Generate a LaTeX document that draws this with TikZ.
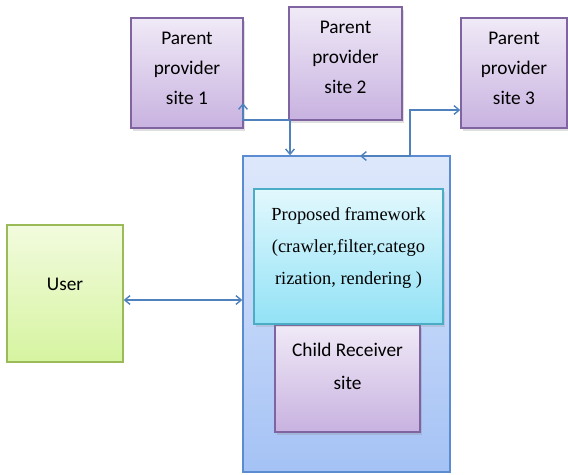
\documentclass[tikz,border=0pt]{standalone}
\usepackage{fontspec}
\setmainfont{Carlito}
\newfontfamily\fwfont{Liberation Serif}
\usetikzlibrary{arrows.meta}
\usetikzlibrary{shadows}

\definecolor{linkblue}{RGB}{79,129,189}
\definecolor{purpleedge}{RGB}{128,100,162}
\definecolor{purpletop}{RGB}{240,234,247}
\definecolor{purplebot}{RGB}{200,178,224}
\definecolor{cyanedge}{RGB}{75,172,198}
\definecolor{cyantop}{RGB}{226,248,253}
\definecolor{cyanbot}{RGB}{146,226,246}
\definecolor{blueedge}{RGB}{91,139,208}
\definecolor{bluetop}{RGB}{222,232,251}
\definecolor{bluebot}{RGB}{164,194,245}
\definecolor{greenedge}{RGB}{155,187,89}
\definecolor{greentop}{RGB}{242,251,222}
\definecolor{greenbot}{RGB}{214,244,160}

\tikzset{
  box/.style={rectangle, inner sep=0pt, line width=0.8pt},
  boxtext/.style={align=center, inner sep=0pt, font=\fontsize{11}{17}\selectfont},
  sitebox/.style={box, draw=purpleedge, top color=purpletop, bottom color=purplebot,
              drop shadow={opacity=0.25, shadow xshift=1pt, shadow yshift=-1.5pt}},
  link/.style={draw=linkblue, line width=0.8pt},
  tip/.style={-{Straight Barb[length=3pt,width=5pt]}},
  bothtip/.style={{Straight Barb[length=3pt,width=5pt]}-{Straight Barb[length=3pt,width=5pt]}}
}

\begin{document}
\begin{tikzpicture}[x=0.02cm, y=-0.02cm]
    \useasboundingbox (0,0) rectangle (568,474);

    % provider sites
    \node[sitebox, minimum width=112*0.02cm, minimum height=110*0.02cm] (site1) at (187,73) {};
    \node[sitebox, minimum width=113*0.02cm, minimum height=113*0.02cm] (site2) at (345.5,63.5) {};
    \node[sitebox, minimum width=106*0.02cm, minimum height=110*0.02cm] (site3) at (514,73) {};
    \node[boxtext] (site1txt) at (187,68) {Parent\\provider\\site 1};
    \node[boxtext] (site2txt) at (345.5,57) {Parent\\provider\\site 2};
    \node[boxtext] (site3txt) at (514,68) {Parent\\provider\\site 3};

    % receiver side
    \node[box, draw=blueedge, top color=bluetop, bottom color=bluebot,
          minimum width=207*0.02cm, minimum height=316*0.02cm] (big) at (346.5,314) {};
    \node[sitebox, minimum width=145*0.02cm, minimum height=107*0.02cm] (child) at (347.5,378.5) {};
    \node[box, draw=cyanedge, top color=cyantop, bottom color=cyanbot,
          drop shadow={opacity=0.2, shadow xshift=1pt, shadow yshift=-1.5pt},
          minimum width=189*0.02cm, minimum height=135*0.02cm] (fw) at (348.5,256.5) {};
    \node[boxtext, font=\fwfont\fontsize{10.5}{18}\selectfont] (fwtxt) at (348.5,248)
          {Proposed framework\\(crawler,filter,catego\\rization, rendering )};
    \node[boxtext, font=\fontsize{11}{18.5}\selectfont] (childtxt) at (347.5,366.5) {Child Receiver\\site};

    \node[box, draw=greenedge, top color=greentop, bottom color=greenbot,
          minimum width=116*0.02cm, minimum height=137*0.02cm] (user) at (65,293.5) {};
    \node[boxtext] (usertxt) at (65,284.5) {User};

    % connectors
    \coordinate (junc) at (290,120);
    \coordinate (tip1) at (243,103);
    \coordinate (tip3) at (360,156);
    \coordinate (bend3) at (410,110);
    \draw[link, tip] (junc) -- (junc |- big.north);
    \draw[link, tip] (junc) -| (tip1);
    \draw[link, bothtip] (tip3) -| (bend3) -- (bend3 -| site3.west);
    \draw[link, bothtip] (user.east |- 0,300) -- (big.west |- 0,300);
\end{tikzpicture}
\end{document}
